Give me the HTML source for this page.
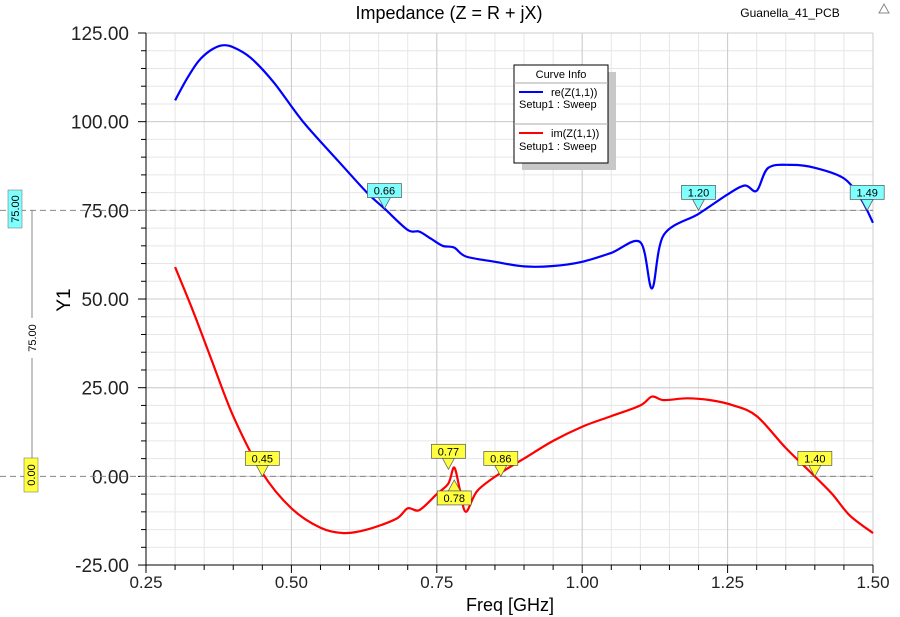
<!DOCTYPE html><html><head><meta charset="utf-8"><style>
body{margin:0;background:#fff;}
svg{display:block;font-family:"Liberation Sans",sans-serif;}
</style></head><body>
<svg id="s" width="900" height="617" xmlns="http://www.w3.org/2000/svg"></svg>
<script>
const X=f=>146+(f-0.25)*581.6, Y=v=>33+(125-v)*3.547;
let h='';
for(let f=0.25;f<=1.501;f+=0.05){h+=`<line x1="${X(f)}" y1="33" x2="${X(f)}" y2="565" stroke="#e6e6e6"/>`;}
for(let v=-25;v<=125.01;v+=5){h+=`<line x1="146" y1="${Y(v)}" x2="873" y2="${Y(v)}" stroke="#e6e6e6"/>`;}
for(let f=0.25;f<=1.501;f+=0.25){h+=`<line x1="${X(f)}" y1="33" x2="${X(f)}" y2="565" stroke="#cccccc"/>`;}
for(let v=-25;v<=125.01;v+=25){h+=`<line x1="146" y1="${Y(v)}" x2="873" y2="${Y(v)}" stroke="#cccccc"/>`;}
h+=`<line x1="146" y1="33" x2="146" y2="565" stroke="#000"/><line x1="146" y1="565" x2="873" y2="565" stroke="#000"/>`;
for(let v=-25;v<=125.01;v+=5){let big=Math.abs(v%25)<.01;h+=`<line x1="${big?138:141}" y1="${Y(v)}" x2="146" y2="${Y(v)}" stroke="#000"/>`;
 if(big)h+=`<text x="129" y="${Y(v)+7}" font-size="19" text-anchor="end" fill="#222">${v.toFixed(2)}</text>`;}
for(let f=0.25;f<=1.501;f+=0.05){let big=Math.abs((f/0.25)-Math.round(f/0.25))<.01;h+=`<line x1="${X(f)}" y1="565" x2="${X(f)}" y2="${big?573:570}" stroke="#000"/>`;
 if(big)h+=`<text x="${X(f)}" y="588" font-size="17" text-anchor="middle" fill="#222">${f.toFixed(2)}</text>`;}
h+=`<line x1="0" y1="${Y(75)}" x2="873" y2="${Y(75)}" stroke="#888" stroke-dasharray="6,4"/>`;
h+=`<line x1="0" y1="${Y(0)}" x2="873" y2="${Y(0)}" stroke="#888" stroke-dasharray="6,4"/>`;
h+=`<line x1="32" y1="${Y(75)}" x2="32" y2="${Y(0)}" stroke="#888"/>`;
h+=`<rect x="24" y="318" width="16" height="40" fill="#fff"/><text transform="translate(36,338) rotate(-90)" font-size="11" text-anchor="middle">75.00</text>`;
h+=`<rect x="8" y="190" width="14" height="38" fill="#80ffff" stroke="#666" stroke-width=".5"/><text transform="translate(19,209) rotate(-90)" font-size="11" text-anchor="middle">75.00</text>`;
h+=`<rect x="24" y="458" width="14" height="34" fill="#ffff40" stroke="#666" stroke-width=".5"/><text transform="translate(35,475) rotate(-90)" font-size="11" text-anchor="middle">0.00</text>`;
h+=`<text transform="translate(70,300) rotate(-90)" font-size="19" text-anchor="middle">Y1</text>`;
h+=`<text x="510" y="611" font-size="18" text-anchor="middle">Freq [GHz]</text>`;
h+=`<text x="449" y="19" font-size="18" text-anchor="middle">Impedance (Z = R + jX)</text>`;
h+=`<text x="790" y="17" font-size="12" text-anchor="middle">Guanella_41_PCB</text>`;
h+=`<polygon points="884,4 879,13 889,13" fill="none" stroke="#888"/>`;
const re=[[0.30,106],[0.32,112],[0.34,117],[0.36,120],[0.38,121.5],[0.40,121],[0.43,118],[0.47,111],[0.52,100],[0.58,89],[0.63,80],[0.66,75.5],[0.70,69.5],[0.72,69],[0.74,67],[0.76,65],[0.78,64.5],[0.80,62],[0.85,60.5],[0.90,59.2],[0.95,59.3],[1.00,60.5],[1.05,63],[1.10,66],[1.12,53],[1.14,68],[1.20,74],[1.25,79.5],[1.28,82],[1.30,80.5],[1.32,87],[1.36,87.8],[1.40,87],[1.45,84],[1.48,78],[1.50,71.5]];
const im=[[0.30,59],[0.33,47],[0.36,34],[0.40,17],[0.45,1],[0.50,-9],[0.55,-14.5],[0.59,-16],[0.63,-15],[0.68,-12],[0.70,-9],[0.72,-9.5],[0.75,-5],[0.77,-2],[0.78,2.5],[0.79,-4],[0.80,-10],[0.82,-4],[0.86,1],[0.90,5],[0.95,10],[1.00,14],[1.05,17],[1.10,20],[1.12,22.5],[1.14,21.5],[1.18,22],[1.22,21.5],[1.26,20],[1.30,17],[1.35,8],[1.40,0],[1.43,-5],[1.46,-11],[1.50,-16]];
function P(a){const p=a.map(q=>[X(q[0]),Y(q[1])]);let d='M'+p[0][0].toFixed(1)+','+p[0][1].toFixed(1);
 for(let i=0;i<p.length-1;i++){const p0=p[Math.max(0,i-1)],p1=p[i],p2=p[i+1],p3=p[Math.min(p.length-1,i+2)];const t=0.16;
 d+=`C${(p1[0]+(p2[0]-p0[0])*t).toFixed(1)},${(p1[1]+(p2[1]-p0[1])*t).toFixed(1)} ${(p2[0]-(p3[0]-p1[0])*t).toFixed(1)},${(p2[1]-(p3[1]-p1[1])*t).toFixed(1)} ${p2[0].toFixed(1)},${p2[1].toFixed(1)}`;}return d;}
h+=`<path d="${P(re)}" fill="none" stroke="#0000ff" stroke-width="2.2" stroke-linejoin="round"/>`;
h+=`<path d="${P(im)}" fill="none" stroke="#ff0000" stroke-width="2.2" stroke-linejoin="round"/>`;
function mk(f,v,lab,col,up){const x=X(f),y=Y(v);
 if(!up){h+=`<polygon points="${x-6},${y-11} ${x+6},${y-11} ${x},${y}" fill="${col}" stroke="#555" stroke-width=".7"/><rect x="${x-17}" y="${y-25}" width="34" height="14" fill="${col}" stroke="#555" stroke-width=".7"/><text x="${x}" y="${y-14}" font-size="11" text-anchor="middle">${lab}</text>`;}
 else{h+=`<polygon points="${x-6},${y+11} ${x+6},${y+11} ${x},${y}" fill="${col}" stroke="#555" stroke-width=".7"/><rect x="${x-17}" y="${y+11}" width="34" height="14" fill="${col}" stroke="#555" stroke-width=".7"/><text x="${x}" y="${y+22}" font-size="11" text-anchor="middle">${lab}</text>`;}}
mk(0.66,75.5,'0.66','#80ffff');mk(1.20,75,'1.20','#80ffff');mk(1.49,75,'1.49','#80ffff');
mk(0.45,0,'0.45','#ffff40');mk(0.77,2,'0.77','#ffff40');mk(0.86,0,'0.86','#ffff40');mk(1.40,0,'1.40','#ffff40');mk(0.78,-1,'0.78','#ffff40',true);
h+=`<rect x="522" y="72" width="94" height="98" fill="#c8c8c8"/><rect x="514" y="65" width="94" height="98" fill="#fff" stroke="#000"/>`;
h+=`<text x="561" y="78" font-size="11" text-anchor="middle">Curve Info</text><line x1="514" y1="83" x2="608" y2="83" stroke="#aaa"/>`;
h+=`<line x1="519" y1="92" x2="543" y2="92" stroke="#0000ff" stroke-width="2"/><text x="551" y="96" font-size="11">re(Z(1,1))</text><text x="519" y="108" font-size="11">Setup1 : Sweep</text>`;
h+=`<line x1="514" y1="124" x2="608" y2="124" stroke="#aaa"/>`;
h+=`<line x1="519" y1="133" x2="543" y2="133" stroke="#ff0000" stroke-width="2"/><text x="551" y="137" font-size="11">im(Z(1,1))</text><text x="519" y="150" font-size="11">Setup1 : Sweep</text>`;
document.getElementById('s').innerHTML=h;
</script></body></html>
